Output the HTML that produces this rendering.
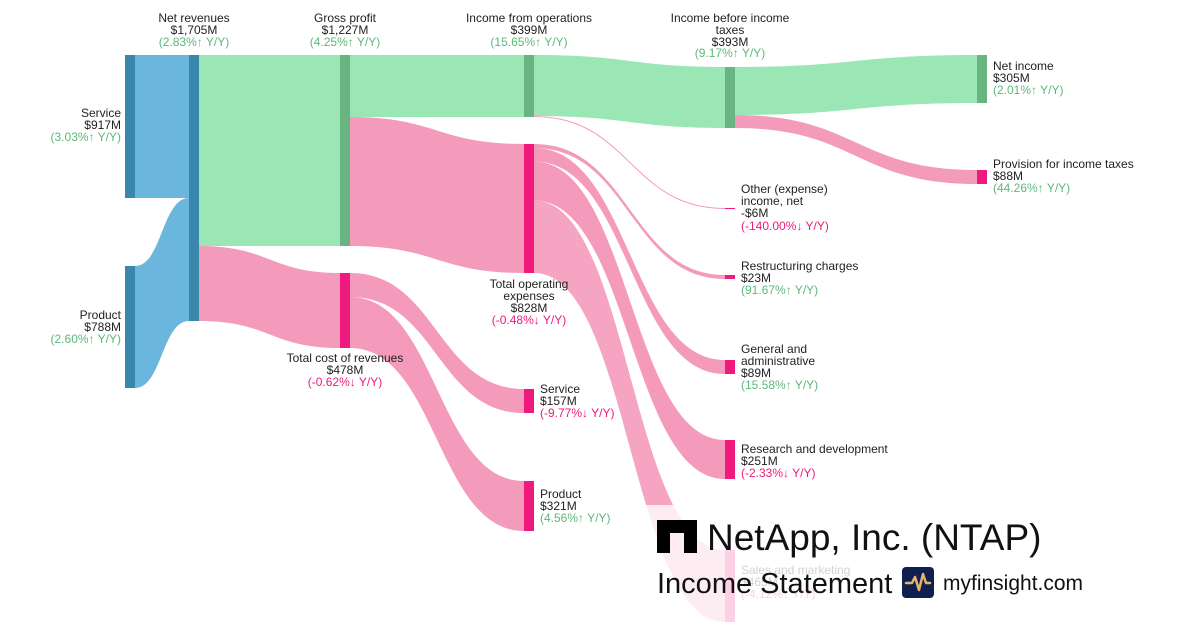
<!DOCTYPE html>
<html><head><meta charset="utf-8"><style>
body{margin:0;background:#fff;}
svg{display:block;font-family:"Liberation Sans",Arial,sans-serif;}
.t{font-size:12px;fill:#222;}
.g{font-size:12px;fill:#5cb87a;}
.r{font-size:12px;fill:#f0197d;}
</style></head><body>
<svg width="1200" height="630" viewBox="0 0 1200 630">
<g>
<path d="M135,55 L189,55 L189,198 L135,198 Z" fill="#6bb6dc"/>
<path d="M135,266 C162,266 162,198 189,198 L189,321 C162,321 162,388 135,388 Z" fill="#6bb6dc"/>
<path d="M199,55 L340,55 L340,246 L199,246 Z" fill="#9ae6b4"/>
<path d="M199,246 C270,246 270,273 340,273 L340,348 C270,348 270,321 199,321 Z" fill="#f49aba"/>
<path d="M350,55 L524,55 L524,117 L350,117 Z" fill="#9ae6b4"/>
<path d="M350,117 C437,117 437,144 524,144 L524,273 C437,273 437,246 350,246 Z" fill="#f49aba"/>
<path d="M350,273 C437,273 437,389 524,389 L524,413 C437,413 437,297 350,297 Z" fill="#f49aba"/>
<path d="M350,297 C437,297 437,481 524,481 L524,531 C437,531 437,348 350,348 Z" fill="#f49aba"/>
<path d="M534,55 C630,55 630,67 725,67 L725,128 C630,128 630,116 534,116 Z" fill="#9ae6b4"/>
<path d="M534,116.5 C630,116.5 630,208.5 725,208.5" stroke="#f49aba" stroke-width="1" fill="none"/>
<path d="M534,144 C630,144 630,275 725,275 L725,279 C630,279 630,148 534,148 Z" fill="#f49aba"/>
<path d="M534,148 C630,148 630,360 725,360 L725,374 C630,374 630,161.5 534,161.5 Z" fill="#f49aba"/>
<path d="M534,161.5 C630,161.5 630,440 725,440 L725,479 C630,479 630,200.5 534,200.5 Z" fill="#f49aba"/>
<path d="M534,200.5 C630,200.5 630,550 725,550 L725,622 C630,622 630,273 534,273 Z" fill="#f49aba" opacity="0.9"/>
<path d="M735,67 C856,67 856,55 977,55 L977,103 C856,103 856,115 735,115 Z" fill="#9ae6b4"/>
<path d="M735,115 C856,115 856,170 977,170 L977,184 C856,184 856,128 735,128 Z" fill="#f49aba"/>
</g>
<rect x="125" y="55" width="10" height="143" fill="#3a87ae"/>
<rect x="125" y="266" width="10" height="122" fill="#3a87ae"/>
<rect x="189" y="55" width="10" height="266" fill="#3a87ae"/>
<rect x="340" y="55" width="10" height="191" fill="#68b582"/>
<rect x="340" y="273" width="10" height="75" fill="#f0197d"/>
<rect x="524" y="55" width="10" height="62" fill="#68b582"/>
<rect x="524" y="144" width="10" height="129" fill="#f0197d"/>
<rect x="524" y="389" width="10" height="24" fill="#f0197d"/>
<rect x="524" y="481" width="10" height="50" fill="#f0197d"/>
<rect x="725" y="67" width="10" height="61" fill="#68b582"/>
<rect x="725" y="208" width="10" height="1" fill="#f0197d"/>
<rect x="725" y="275" width="10" height="4" fill="#f0197d"/>
<rect x="725" y="360" width="10" height="14" fill="#f0197d"/>
<rect x="725" y="440" width="10" height="39" fill="#f0197d"/>
<rect x="725" y="550" width="10" height="72" fill="#f0197d"/>
<rect x="977" y="55" width="10" height="48" fill="#68b582"/>
<rect x="977" y="170" width="10" height="14" fill="#f0197d"/>
<g text-anchor="middle">
<text class="t" x="194" y="22">Net revenues</text><text class="t" x="194" y="34">$1,705M</text><text class="g" x="194" y="46">(2.83%↑ Y/Y)</text>
<text class="t" x="345" y="22">Gross profit</text><text class="t" x="345" y="34">$1,227M</text><text class="g" x="345" y="46">(4.25%↑ Y/Y)</text>
<text class="t" x="529" y="22">Income from operations</text><text class="t" x="529" y="34">$399M</text><text class="g" x="529" y="46">(15.65%↑ Y/Y)</text>
<text class="t" x="730" y="22">Income before income</text><text class="t" x="730" y="34">taxes</text><text class="t" x="730" y="46">$393M</text><text class="g" x="730" y="57">(9.17%↑ Y/Y)</text>
<text class="t" x="345" y="362">Total cost of revenues</text><text class="t" x="345" y="374">$478M</text><text class="r" x="345" y="386">(-0.62%↓ Y/Y)</text>
<text class="t" x="529" y="288">Total operating</text><text class="t" x="529" y="300">expenses</text><text class="t" x="529" y="312">$828M</text><text class="r" x="529" y="324">(-0.48%↓ Y/Y)</text>
</g>
<g text-anchor="end">
<text class="t" x="121" y="117">Service</text><text class="t" x="121" y="129">$917M</text><text class="g" x="121" y="141">(3.03%↑ Y/Y)</text>
<text class="t" x="121" y="319">Product</text><text class="t" x="121" y="331">$788M</text><text class="g" x="121" y="343">(2.60%↑ Y/Y)</text>
</g>
<text class="t" x="540" y="393">Service</text><text class="t" x="540" y="405">$157M</text><text class="r" x="540" y="417">(-9.77%↓ Y/Y)</text>
<text class="t" x="540" y="498">Product</text><text class="t" x="540" y="510">$321M</text><text class="g" x="540" y="522">(4.56%↑ Y/Y)</text>
<text class="t" x="741" y="193">Other (expense)</text><text class="t" x="741" y="205">income, net</text><text class="t" x="741" y="217">-$6M</text><text class="r" x="741" y="230">(-140.00%↓ Y/Y)</text>
<text class="t" x="741" y="270">Restructuring charges</text><text class="t" x="741" y="282">$23M</text><text class="g" x="741" y="294">(91.67%↑ Y/Y)</text>
<text class="t" x="741" y="353">General and</text><text class="t" x="741" y="365">administrative</text><text class="t" x="741" y="377">$89M</text><text class="g" x="741" y="389">(15.58%↑ Y/Y)</text>
<text class="t" x="741" y="453">Research and development</text><text class="t" x="741" y="465">$251M</text><text class="r" x="741" y="477">(-2.33%↓ Y/Y)</text>
<text class="t" x="741" y="574">Sales and marketing</text><text class="t" x="741" y="586">$465M</text><text class="r" x="741" y="598">(-4.12%↓ Y/Y)</text>
<text class="t" x="993" y="70">Net income</text><text class="t" x="993" y="82">$305M</text><text class="g" x="993" y="94">(2.01%↑ Y/Y)</text>
<text class="t" x="993" y="168">Provision for income taxes</text><text class="t" x="993" y="180">$88M</text><text class="g" x="993" y="192">(44.26%↑ Y/Y)</text>
<rect x="640" y="505" width="460" height="125" fill="#fff" opacity="0.8"/>
<path d="M657,520 H697 V553 H684 V533 H670 V553 H657 Z" fill="#000"/>
<text x="707" y="550" font-size="37" fill="#111">NetApp, Inc. (NTAP)</text>
<text x="657" y="593" font-size="29" fill="#111">Income Statement</text>
<rect x="902" y="567" width="32" height="31" rx="4" fill="#0f2050"/>
<path d="M906,583 H912 L915,577 L919,590 L923,574 L926,583 H930" stroke="#e3b56a" stroke-width="2.5" fill="none" stroke-linejoin="round" stroke-linecap="round"/>
<text x="943" y="590" font-size="21" fill="#111">myfinsight.com</text>
</svg>
</body></html>
